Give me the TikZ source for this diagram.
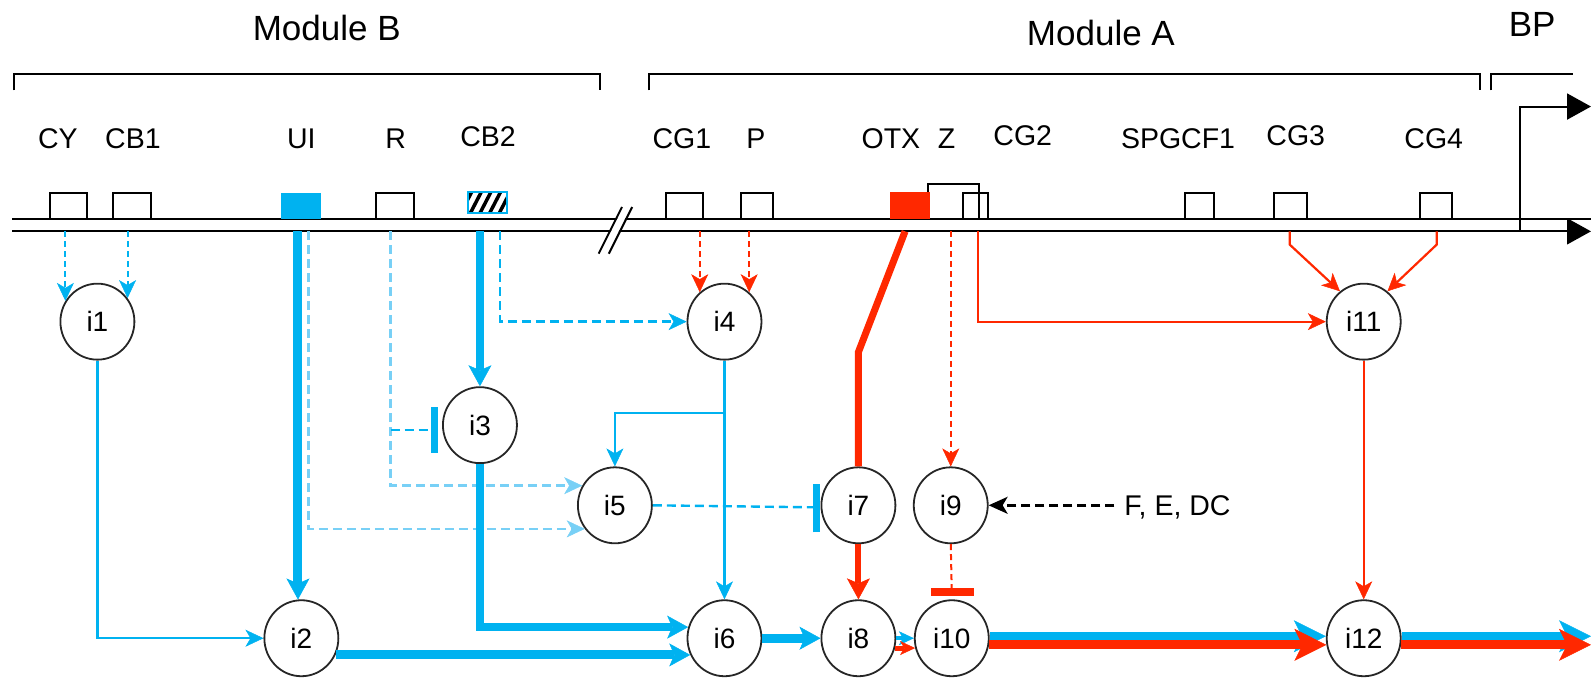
\documentclass[tikz,border=0pt]{standalone}
\usepackage{fontspec}
\setmainfont{Liberation Sans}
\usetikzlibrary{arrows.meta,shapes.geometric}
\definecolor{cy}{RGB}{0,178,240}
\definecolor{lcy}{RGB}{120,208,246}
\definecolor{rd}{RGB}{255,40,0}
\begin{document}
\begin{tikzpicture}[x=1.0147pt,y=-1.0147pt,
  inode/.style={ellipse,draw=black!85,line width=1.8pt,minimum width=74pt,minimum height=76pt,inner sep=0pt,fill=white,font=\fontsize{28}{30}\selectfont},
  glabel/.style={anchor=base,inner sep=0pt,font=\fontsize{28.5}{30}\selectfont},
  mlabel/.style={anchor=base,inner sep=0pt,font=\fontsize{35}{37}\selectfont},
  site/.style={draw=black,line width=2pt},
  dnaline/.style={line width=2pt,black},
  thinln/.style={line width=2.2pt},
  dsh/.style={line width=2.4pt,dash pattern=on 9pt off 5pt},
  sdsh/.style={line width=2pt,dash pattern=on 6pt off 4pt},
  ta/.style={-{Stealth[length=18pt,width=17pt,inset=5pt,line width=0.5pt]}},
  tb/.style={-{Stealth[length=21pt,width=23pt,inset=5pt,line width=0.5pt]}},
  ts/.style={-{Stealth[length=15pt,width=14pt,inset=4pt,line width=0.5pt]}},
  tc/.style={-{Stealth[length=32pt,width=32pt,inset=8pt,line width=0.5pt]}},
  tri/.style={-{Triangle[length=24pt,width=26pt]}},
  barln/.style={line width=7pt},
]
\useasboundingbox (0,0) rectangle (1568,670.15);

% brackets and module titles
\draw[line width=2pt] (14,89) -- (14,73) -- (591,73) -- (591,89);
\draw[line width=2pt] (640,89) -- (640,73) -- (1459,73) -- (1459,89);
\draw[line width=2pt] (1469,89) -- (1469,73) -- (1550,73);
\node[mlabel] (mB) at (322,40) {Module B};
\node[mlabel] (mA) at (1085,45) {Module A};
\node[mlabel] (mBP) at (1510,36) {BP};

% site labels
\node[glabel] (lCY) at (57,146) {CY};
\node[glabel] (lCB1) at (131,146) {CB1};
\node[glabel] (lUI) at (297,146) {UI};
\node[glabel] (lR) at (390,146) {R};
\node[glabel] (lCB2) at (481,144) {CB2};
\node[glabel] (lCG1) at (672,146) {CG1};
\node[glabel] (lP) at (745,146) {P};
\node[glabel] (lOTX) at (878,146) {OTX};
\node[glabel] (lZ) at (933,146) {Z};
\node[glabel] (lCG2) at (1008,143) {CG2};
\node[glabel] (lSP) at (1161,146) {SPGCF1};
\node[glabel] (lCG3) at (1277,143) {CG3};
\node[glabel] (lCG4) at (1413,146) {CG4};

% DNA
\coordinate (dnaU) at (12,216);
\coordinate (dnaL) at (12,228);
\coordinate (dnaEnd) at (1568,228);
\draw[dnaline] (dnaU) -- (1568,216);
\draw[dnaline,tri] (dnaL) -- (dnaEnd);
\coordinate (bpFoot) at (1498,228);
\coordinate (bpEnd) at (1568,105);
\draw[dnaline,tri] (bpFoot) |- (bpEnd);
% break
\draw[white,line width=7pt] (595,250) -- (618,204);
\draw[line width=2pt] (590,250) -- (613,204);
\draw[line width=2pt] (600,250) -- (623,204);

% sites
\draw[site] (49,216) |- (86,190) -- (86,216);
\draw[site] (111,216) |- (149,190) -- (149,216);
\fill[cy] (277,190) rectangle (316,216);
\draw[site] (371,216) |- (408,190) -- (408,216);
\begin{scope}
  \clip (461,189) rectangle (500,210);
  \foreach \k in {0,...,6} \draw[line width=3.5pt] (452+\k*9.5,214) -- (467+\k*9.5,185);
\end{scope}
\draw[cy,line width=2pt] (461,189) rectangle (500,210);
\draw[site] (656,216) |- (693,190) -- (693,216);
\draw[site] (730,216) |- (762,190) -- (762,216);
\draw[site] (915,216) |- (965,181) -- (965,216);
\draw[site] (949,216) |- (974,190) -- (974,216);
\fill[rd] (877,189) rectangle (917,216);
\draw[site] (1168,216) |- (1196,190) -- (1196,216);
\draw[site] (1256,216) |- (1288,190) -- (1288,216);
\draw[site] (1399,216) |- (1431,190) -- (1431,216);

% interaction nodes
\node[inode] (i1) at (96,317) {i1};
\node[inode] (i4) at (714,317) {i4};
\node[inode] (i11) at (1344,317) {i11};
\node[inode] (i3) at (473,419) {i3};
\node[inode] (i5) at (606,498) {i5};
\node[inode] (i7) at (846,498) {i7};
\node[inode] (i9) at (937,498) {i9};
\node[inode] (i2) at (297,629) {i2};
\node[inode] (i6) at (714,629) {i6};
\node[inode] (i8) at (846,629) {i8};
\node[inode] (i10) at (938,629) {i10};
\node[inode] (i12) at (1344,629) {i12};
\node[glabel,anchor=base west] (fed) at (1108,508) {F, E, DC};

% Module B inputs
\draw[cy,sdsh,ta] (i1.147 |- dnaL) -- (i1.147);
\draw[cy,sdsh,ta] (i1.38 |- dnaL) -- (i1.38);
\draw[cy,line width=9pt,tb] (i2.95 |- dnaL) -- (i2.95);
\coordinate (sUId) at (304,228);
\draw[lcy,dsh,ta] (sUId) |- (i5.218);
\coordinate (sR) at (385,228);
\draw[lcy,dsh,ta] (sR) |- (i5.149);
\coordinate (bar3) at (428,424);
\draw[cy,dsh] (sR |- bar3) -- (bar3);
\draw[cy,barln] ([yshift=23pt]bar3) -- ([yshift=-23pt]bar3);
\draw[cy,line width=7.5pt,tb] (i3.north |- dnaL) -- (i3.north);
\coordinate (sCB2d) at (493,228);
\draw[cy,dsh,ta] (sCB2d) |- (i4.west);

% Module A inputs
\draw[rd,sdsh,ta] (i4.130 |- dnaL) -- (i4.130);
\draw[rd,sdsh,ta] (i4.50 |- dnaL) -- (i4.50);
\coordinate (sOTX) at (892,228);
\coordinate (kOTX) at (846,347);
\draw[rd,line width=7pt] (sOTX) -- (kOTX) -- (i7.north);
\draw[rd,sdsh,ta] (i9.north |- dnaL) -- (i9.north);
\coordinate (sCG2) at (964,228);
\draw[rd,thinln,ta] (sCG2) |- (i11.west);
\coordinate (sCG3) at (1271,228);
\coordinate (kCG3) at (1271,241);
\draw[rd,thinln,ta] (sCG3) -- (kCG3) -- (i11.128);
\coordinate (sCG4) at (1416,228);
\coordinate (kCG4) at (1416,241);
\draw[rd,thinln,ta] (sCG4) -- (kCG4) -- (i11.52);

% internal links
\draw[cy,thinln,ta] (i1.south) |- (i2.west);
\draw[cy,thinln,ta] (i4.south) -- (i6.north);
\coordinate (br4) at (714,407);
\draw[cy,thinln,ta] (br4) -| (i5.north);
\draw[cy,line width=8pt,tb] (i3.south) |- (i6.163);
\draw[cy,line width=9pt,tb] (i2.-26) -- (i2.-26 -| i6.206);
\coordinate (bar7) at (805,500);
\draw[cy,dsh] (i5.east) -- (bar7);
\draw[cy,barln] ([yshift=-25pt]bar7) -- ([yshift=23pt]bar7);
\draw[rd,line width=6pt,tb] (i7.south) -- (i8.north);
\draw[cy,line width=9pt,tb] (i6.east) -- (i8.west);
\draw[cy,line width=4pt,ts] (i8.east) -- (i10.west);
\draw[rd,line width=5pt,ts] (i8.-15) -- (i10.195);
\coordinate (bar10) at (938,583);
\draw[rd,sdsh] (i9.south) -- (bar10);
\draw[rd,line width=8pt] ([xshift=-21pt]bar10) -- ([xshift=22pt]bar10);
\draw[black,dsh,-{Stealth[length=19pt,width=17pt,inset=5pt]}] ([xshift=-10pt]fed.west |- i9.east) -- (i9.east);
\draw[rd,thinln,ta] (i11.south) -- (i12.north);
\draw[cy,line width=8pt,tc] (i10.3) -- (i12.177);
\draw[rd,line width=9pt,tc] (i10.-10) -- (i12.190);
\coordinate (outR) at (1568,630);
\draw[cy,line width=8pt,tc] (i12.3) -- (i12.3 -| outR);
\draw[rd,line width=9pt,tc] (i12.-10) -- (i12.-10 -| outR);
\end{tikzpicture}
\end{document}
